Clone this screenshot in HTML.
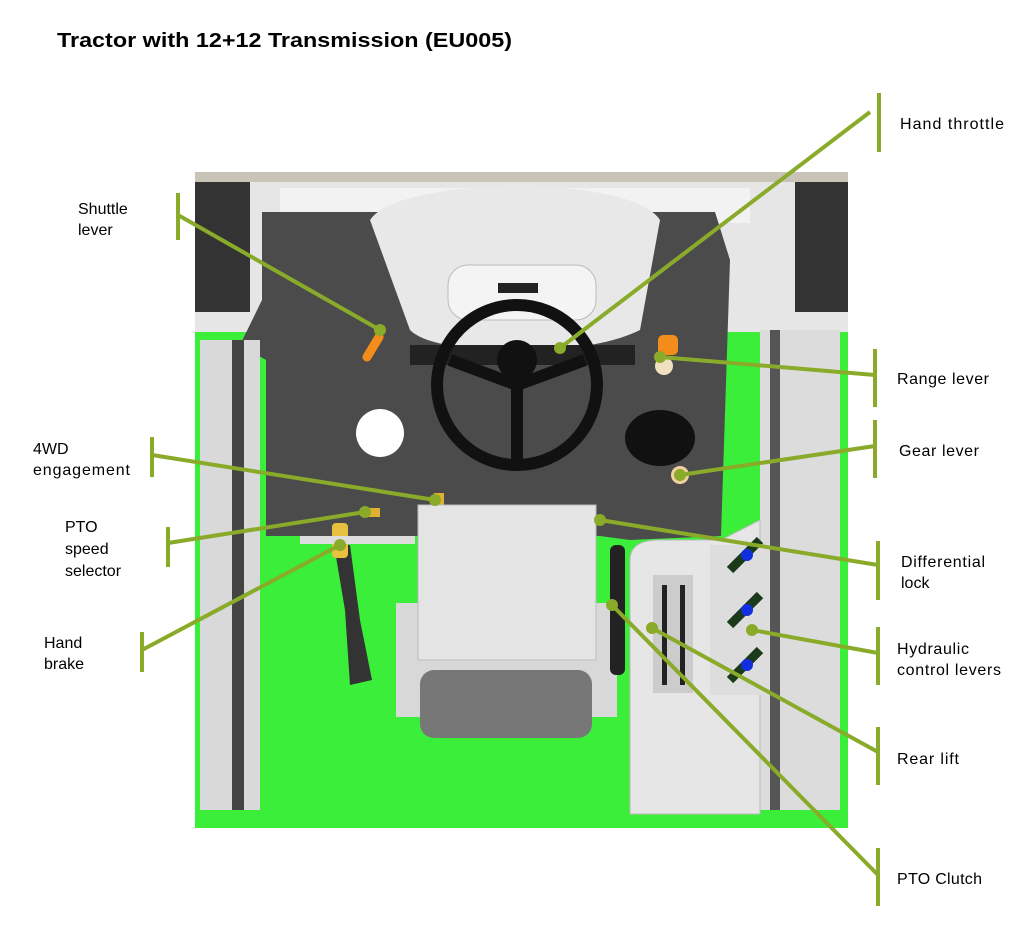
<!DOCTYPE html>
<html><head><meta charset="utf-8"><style>
body{margin:0;background:#fff;width:1024px;height:931px;overflow:hidden;font-family:"Liberation Sans",sans-serif}
</style></head><body>
<svg width="1024" height="931" xmlns="http://www.w3.org/2000/svg" style="position:absolute;left:0;top:0">
<text x="57" y="47" font-family="Liberation Sans" font-weight="bold" font-size="20" fill="#000" textLength="455" lengthAdjust="spacingAndGlyphs">Tractor with 12+12 Transmission (EU005)</text>
<rect x="195" y="172" width="653" height="656" fill="#e6e6e6"/>
<rect x="195" y="332" width="653" height="496" fill="#3aee3a"/>
<rect x="195" y="172" width="653" height="10" fill="#c8c4b8"/>
<rect x="280" y="188" width="470" height="35" fill="#f2f2f2"/>
<polygon points="262,212 715,212 730,260 721,536 630,540 600,536 400,536 266,536 266,360 240,345 262,300" fill="#4b4b4b"/>
<path d="M370 220 Q390 190 520 185 Q640 190 660 220 L640 330 Q600 350 520 350 Q430 350 410 330 Z" fill="#e8e8e8"/>
<rect x="448" y="265" width="148" height="55" rx="20" fill="#f4f4f4" stroke="#bbb"/>
<rect x="498" y="283" width="40" height="10" fill="#222"/>
<rect x="410" y="345" width="225" height="20" fill="#222"/>
<rect x="195" y="182" width="55" height="130" fill="#333"/>
<rect x="795" y="182" width="53" height="130" fill="#333"/>
<rect x="200" y="340" width="60" height="470" fill="#d9d9d9"/>
<rect x="232" y="340" width="12" height="470" fill="#444"/>
<rect x="760" y="330" width="80" height="480" fill="#dcdcdc"/>
<rect x="770" y="330" width="10" height="480" fill="#555"/>
<circle cx="517" cy="385" r="80" fill="none" stroke="#111" stroke-width="12"/>
<path d="M517 385 L450 360 M517 385 L585 360 M517 385 L517 460" stroke="#111" stroke-width="12"/>
<circle cx="517" cy="360" r="20" fill="#111"/>
<circle cx="380" cy="433" r="24" fill="#fff"/>
<ellipse cx="660" cy="438" rx="35" ry="28" fill="#111"/>
<circle cx="680" cy="475" r="9" fill="#f0d0a0"/>
<rect x="658" y="335" width="20" height="20" rx="5" fill="#f28c1a"/>
<circle cx="664" cy="366" r="9" fill="#f0e0c0"/>
<path d="M367 357 l12 -20" stroke="#f28c1a" stroke-width="9" stroke-linecap="round"/>
<rect x="362" y="508" width="18" height="9" fill="#e0b030"/>
<rect x="434" y="493" width="10" height="12" fill="#e0b030"/>
<polygon points="334,545 350,545 360,620 372,680 350,685 345,610" fill="#333"/>
<rect x="332" y="523" width="16" height="35" rx="4" fill="#e8c040"/>
<rect x="300" y="536" width="115" height="8" fill="#ddd"/>
<rect x="396" y="603" width="221" height="114" fill="#d8d8d8"/>
<path d="M418 505 L596 505 L596 660 L418 660 Z" fill="#e4e4e4" stroke="#bbb"/>
<rect x="420" y="670" width="172" height="68" rx="14" fill="#777"/>
<rect x="610" y="545" width="15" height="130" rx="6" fill="#222"/>
<path d="M630 560 Q630 540 660 540 L721 540 L760 520 L760 814 L630 814 Z" fill="#e6e6e6" stroke="#bbb"/>
<rect x="653" y="575" width="40" height="118" fill="#ccc"/>
<rect x="662" y="585" width="5" height="100" fill="#222"/><rect x="680" y="585" width="5" height="100" fill="#222"/>
<rect x="710" y="545" width="60" height="150" fill="#ddd"/>
<path d="M730 570 l30 -30 M730 625 l30 -30 M730 680 l30 -30" stroke="#1a3a1a" stroke-width="9"/>
<circle cx="747" cy="555" r="6" fill="#1030e0"/><circle cx="747" cy="610" r="6" fill="#1030e0"/><circle cx="747" cy="665" r="6" fill="#1030e0"/>
<g stroke="#8aaa2a" stroke-width="4" fill="none">
<path d="M879 93 V152 M870 112 L560 348"/>
<path d="M178 193 V240 M178 215 L380 330"/>
<path d="M875 349 V407 M875 375 L660 357"/>
<path d="M875 420 V478 M875 446 L680 475"/>
<path d="M152 437 V477 M152 455 L435 500"/>
<path d="M168 527 V567 M168 543 L365 512"/>
<path d="M142 632 V672 M142 650 L340 545"/>
<path d="M878 541 V600 M878 565 L600 520"/>
<path d="M878 627 V685 M878 653 L752 630"/>
<path d="M878 727 V785 M878 752 L652 628"/>
<path d="M878 848 V906 M878 875 L612 605"/>
</g>
<g fill="#8aaa2a">
<circle cx="560" cy="348" r="6"/><circle cx="380" cy="330" r="6"/><circle cx="660" cy="357" r="6"/>
<circle cx="680" cy="475" r="6"/><circle cx="435" cy="500" r="6"/><circle cx="365" cy="512" r="6"/>
<circle cx="340" cy="545" r="6"/><circle cx="600" cy="520" r="6"/><circle cx="752" cy="630" r="6"/>
<circle cx="652" cy="628" r="6"/><circle cx="612" cy="605" r="6"/>
</g>
<g font-family="Liberation Sans" font-size="16" fill="#000">
<text x="900" y="129" textLength="104">Hand throttle</text>
<text x="78" y="214">Shuttle</text><text x="78" y="235">lever</text>
<text x="897" y="384" textLength="92">Range lever</text>
<text x="899" y="456" textLength="80">Gear lever</text>
<text x="33" y="454">4WD</text><text x="33" y="475" textLength="97">engagement</text>
<text x="65" y="532">PTO</text><text x="65" y="554">speed</text><text x="65" y="576">selector</text>
<text x="44" y="648">Hand</text><text x="44" y="669">brake</text>
<text x="901" y="567" textLength="84">Differential</text><text x="901" y="588">lock</text>
<text x="897" y="654" textLength="72">Hydraulic</text><text x="897" y="675" textLength="104">control levers</text>
<text x="897" y="764" textLength="62">Rear lift</text>
<text x="897" y="884" textLength="85">PTO Clutch</text>
</g>
</svg>
</body></html>
